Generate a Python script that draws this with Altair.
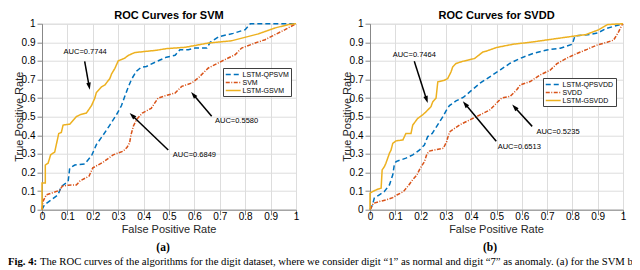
import math
import altair as alt
import pandas as pd

TICKS = [0, 0.1, 0.2, 0.3, 0.4, 0.5, 0.6, 0.7, 0.8, 0.9, 1]

NAMES_A = ["LSTM-QPSVM", "SVM", "LSTM-GSVM"]
NAMES_B = ["LSTM-QPSVDD", "SVDD", "LSTM-GSVDD"]
COLORS = ["#0072BD", "#D95319", "#EDB120"]
DASHES = [[5, 3], [4, 1.5, 1, 1.5], [1, 0]]
X_TITLE = "False Positive Rate"
Y_TITLE = "True Positive Rate"

# ---- panel (a) ----
A_QP_X = [0, 0.01, 0.037, 0.063, 0.076, 0.103, 0.109, 0.129, 0.168, 0.195, 0.214, 0.24, 0.267, 0.293, 0.313, 0.326, 0.34, 0.352, 0.372, 0.39, 0.411, 0.45, 0.49, 0.524, 0.543, 0.576, 0.603, 0.649, 0.662, 0.695, 0.753, 0.8, 0.82, 1]
A_QP_Y = [0, 0.027, 0.054, 0.08, 0.125, 0.152, 0.223, 0.24, 0.246, 0.29, 0.35, 0.40, 0.455, 0.51, 0.56, 0.61, 0.66, 0.70, 0.745, 0.765, 0.77, 0.796, 0.82, 0.83, 0.86, 0.86, 0.869, 0.869, 0.9, 0.93, 0.948, 0.968, 1.0, 1]

A_SVM_X = [0, 0.004, 0.017, 0.05, 0.07, 0.08, 0.103, 0.135, 0.15, 0.185, 0.2, 0.24, 0.28, 0.32, 0.335, 0.345, 0.35, 0.36, 0.372, 0.395, 0.43, 0.457, 0.49, 0.524, 0.55, 0.589, 0.615, 0.655, 0.72, 0.76, 0.786, 0.839, 0.878, 0.917, 0.957, 1]
A_SVM_Y = [0, 0.045, 0.08, 0.095, 0.105, 0.127, 0.132, 0.133, 0.155, 0.18, 0.225, 0.255, 0.295, 0.315, 0.335, 0.36, 0.40, 0.45, 0.484, 0.52, 0.545, 0.60, 0.615, 0.627, 0.663, 0.681, 0.708, 0.762, 0.807, 0.833, 0.869, 0.896, 0.914, 0.941, 0.968, 1]

A_G_X = [0, 0, 0.013, 0.013, 0.024, 0.034, 0.05, 0.066, 0.076, 0.083, 0.11, 0.135, 0.149, 0.175, 0.195, 0.208, 0.214, 0.234, 0.247, 0.267, 0.274, 0.287, 0.3, 0.326, 0.34, 0.366, 0.4, 0.45, 0.49, 0.563, 0.655, 0.746, 0.8, 0.851, 0.917, 0.969, 1]
A_G_Y = [0, 0.143, 0.143, 0.24, 0.25, 0.295, 0.31, 0.41, 0.415, 0.455, 0.46, 0.5, 0.51, 0.52, 0.56, 0.6, 0.63, 0.66, 0.67, 0.705, 0.73, 0.76, 0.8, 0.815, 0.83, 0.845, 0.85, 0.857, 0.866, 0.873, 0.896, 0.908, 0.927, 0.945, 0.977, 0.995, 1]

A_AUC_TEXT = ["AUC=0.7744", "AUC=0.6849", "AUC=0.5580"]
A_AUC_X = [0.17, 0.60, 0.766]
A_AUC_Y = [0.846, 0.294, 0.478]
A_ARROW_TAIL_X = [0.168, 0.497, 0.668]
A_ARROW_TAIL_Y = [0.798, 0.321, 0.502]
A_ARROW_HEAD_X = [0.188, 0.345, 0.587]
A_ARROW_HEAD_Y = [0.645, 0.52, 0.633]

# ---- panel (b) ----
B_QP_X = [0, 0.01, 0.017, 0.037, 0.057, 0.077, 0.09, 0.096, 0.103, 0.142, 0.169, 0.195, 0.215, 0.228, 0.246, 0.274, 0.288, 0.3, 0.314, 0.34, 0.37, 0.4, 0.435, 0.475, 0.515, 0.554, 0.594, 0.646, 0.699, 0.752, 0.8, 0.81, 0.86, 0.9, 0.935, 0.975, 1]
B_QP_Y = [0, 0.027, 0.0625, 0.08, 0.098, 0.134, 0.1875, 0.241, 0.259, 0.277, 0.295, 0.32, 0.348, 0.393, 0.41, 0.47, 0.5, 0.53, 0.56, 0.585, 0.605, 0.64, 0.68, 0.716, 0.752, 0.7875, 0.814, 0.841, 0.859, 0.868, 0.89, 0.935, 0.94, 0.95, 0.975, 0.99, 1]

B_SVDD_X = [0, 0.004, 0.013, 0.04, 0.066, 0.09, 0.106, 0.132, 0.152, 0.168, 0.185, 0.198, 0.215, 0.225, 0.235, 0.25, 0.29, 0.303, 0.31, 0.317, 0.356, 0.396, 0.435, 0.475, 0.5, 0.52, 0.554, 0.58, 0.594, 0.633, 0.673, 0.712, 0.739, 0.778, 0.818, 0.858, 0.897, 0.937, 0.963, 0.983, 0.996, 1]
B_SVDD_Y = [0, 0.009, 0.034, 0.045, 0.054, 0.065, 0.079, 0.097, 0.13, 0.16, 0.186, 0.222, 0.258, 0.3, 0.315, 0.32, 0.33, 0.366, 0.40, 0.421, 0.457, 0.484, 0.51, 0.5375, 0.573, 0.6, 0.609, 0.645, 0.671, 0.689, 0.725, 0.75, 0.785, 0.815, 0.84, 0.862, 0.885, 0.9, 0.912, 0.957, 0.993, 1]

B_G_X = [0, 0, 0.011, 0.03, 0.044, 0.048, 0.057, 0.063, 0.07, 0.077, 0.083, 0.09, 0.103, 0.13, 0.142, 0.162, 0.169, 0.188, 0.208, 0.222, 0.241, 0.248, 0.261, 0.268, 0.294, 0.307, 0.32, 0.327, 0.34, 0.367, 0.386, 0.413, 0.433, 0.446, 0.459, 0.5, 0.567, 0.633, 0.726, 0.805, 0.852, 0.905, 0.938, 1]
B_G_Y = [0, 0.089, 0.098, 0.11, 0.116, 0.214, 0.232, 0.25, 0.277, 0.304, 0.32, 0.357, 0.37, 0.375, 0.41, 0.41, 0.455, 0.49, 0.51, 0.527, 0.554, 0.58, 0.6, 0.6875, 0.696, 0.705, 0.74, 0.768, 0.786, 0.798, 0.804, 0.8125, 0.834, 0.848, 0.852, 0.872, 0.89, 0.9, 0.918, 0.933, 0.941, 0.968, 0.995, 1]

B_AUC_TEXT = ["AUC=0.7464", "AUC=0.6513", "AUC=0.5235"]
B_AUC_X = [0.175, 0.59, 0.743]
B_AUC_Y = [0.83, 0.337, 0.418]
B_ARROW_TAIL_X = [0.175, 0.499, 0.641]
B_ARROW_TAIL_Y = [0.798, 0.368, 0.448]
B_ARROW_HEAD_X = [0.228, 0.367, 0.562]
B_ARROW_HEAD_Y = [0.574, 0.583, 0.565]

CAPTION_BOLD = "Fig. 4:"
CAPTION_REST = ("The ROC curves of the algorithms for the digit dataset, where we consider "
                "digit \u201c1\u201d as normal and digit \u201c7\u201d as anomaly. (a) for the SVM based")

SANS = "Liberation Sans"
SERIF = "Liberation Serif"
H = 186
ARROW_PATH = "M0,0L-0.32,1L0.32,1Z"


def label_layer(text, x, y, **kw):
    return alt.Chart(pd.DataFrame({"t": [text]})).mark_text(**kw).encode(
        x=alt.value(x), y=alt.value(y), text="t:N")


def panel(names, series, auc_text, auc_x, auc_y, tx, ty, hx, hy, W, title, sub, sub_x, leg_x, leg_y, caption=False):
    rows = []
    for name, (xs, ys) in zip(names, series):
        for i, (x, y) in enumerate(zip(xs, ys)):
            rows.append({"series": name, "x": x, "y": y, "i": i})
    df = pd.DataFrame(rows)

    sx = alt.Scale(domain=[0, 1], nice=False, zero=False)
    sy = alt.Scale(domain=[0, 1], nice=False, zero=False)
    ax_x = alt.Axis(values=TICKS, format="~g", title=None, grid=True,
                    labelPadding=-3, labelFlush=False)
    ax_y = alt.Axis(values=TICKS, format="~g", title=None, grid=True,
                    labelPadding=2, labelFlush=False)
    X = alt.X("x:Q", scale=sx, axis=ax_x)
    Y = alt.Y("y:Q", scale=sy, axis=ax_y)

    legend = alt.Legend(title=None, orient="none", legendX=leg_x, legendY=leg_y,
                        fillColor="white", strokeColor="#404040", padding=2, rowPadding=0,
                        symbolType="M-1,0H3", symbolSize=56.25, symbolStrokeWidth=1.5,
                        labelFontSize=7, labelOffset=8.5, labelFont=SANS,
                        labelColor="black", labelLimit=0)

    lines = alt.Chart(df).mark_line(strokeWidth=1.5).encode(
        x=X, y=Y,
        color=alt.Color("series:N", scale=alt.Scale(domain=names, range=COLORS), legend=legend),
        strokeDash=alt.StrokeDash("series:N", scale=alt.Scale(domain=names, range=DASHES), legend=legend),
        order="i:Q",
    )

    arows = []
    for a, b, c, d in zip(tx, ty, hx, hy):
        dxp = (c - a) * W
        dyp = -(d - b) * H
        L = math.hypot(dxp, dyp)
        ang = math.degrees(math.atan2(dxp, -dyp)) % 360
        ex = c - (dxp / L * 5) / W
        ey = d + (dyp / L * 5) / H
        arows.append({"x": a, "y": b, "x2": ex, "y2": ey, "hx": c, "hy": d, "ang": ang})
    adf = pd.DataFrame(arows)
    shafts = alt.Chart(adf).mark_rule(color="black", strokeWidth=1.5).encode(
        x=X, y=Y, x2="x2:Q", y2="y2:Q")
    heads = alt.Chart(adf).mark_point(shape=ARROW_PATH, filled=True, size=200, color="black",
                                      opacity=1, strokeWidth=0).encode(
        x=alt.X("hx:Q", scale=sx, axis=ax_x), y=alt.Y("hy:Q", scale=sy, axis=ax_y),
        angle=alt.Angle("ang:Q", scale=None))

    tdf = pd.DataFrame({"x": auc_x, "y": auc_y, "t": auc_text})
    texts = alt.Chart(tdf).mark_text(font=SANS, fontSize=7.5, color="black", align="center",
                                     baseline="middle").encode(x=X, y=Y, text="t:N")

    xt = label_layer(X_TITLE, W / 2, H + 20.5, font=SANS, fontSize=11, color="#262626",
                     align="center", baseline="middle")
    yt = label_layer(Y_TITLE, -22, H / 2, font=SANS, fontSize=11, color="#262626",
                     align="center", baseline="middle", angle=270)
    subl = label_layer(sub, sub_x, 224, font=SERIF, fontSize=11.5, fontWeight="bold",
                       color="black", align="center", baseline="middle")

    layers = [lines, shafts, heads, texts, xt, yt, subl]
    if caption:
        layers.append(label_layer(CAPTION_BOLD, -34, 240.8, font=SERIF, fontSize=10.7,
                                  fontWeight="bold", color="black", align="left",
                                  baseline="alphabetic"))
        layers.append(label_layer(CAPTION_REST, -2, 240.8, font=SERIF, fontSize=10.7,
                                  color="black", align="left", baseline="alphabetic"))

    return alt.layer(*layers).properties(
        width=W, height=H,
        title=alt.TitleParams(title, fontSize=11, font=SANS, fontWeight="bold", color="black",
                              offset=-2, anchor="middle", frame="group"),
    )


pa = panel(NAMES_A, [(A_QP_X, A_QP_Y), (A_SVM_X, A_SVM_Y), (A_G_X, A_G_Y)],
           A_AUC_TEXT, A_AUC_X, A_AUC_Y, A_ARROW_TAIL_X, A_ARROW_TAIL_Y,
           A_ARROW_HEAD_X, A_ARROW_HEAD_Y, 254, "ROC Curves for SVM", "(a)", 121, 181, 44.3,
           caption=True)
pb = panel(NAMES_B, [(B_QP_X, B_QP_Y), (B_SVDD_X, B_SVDD_Y), (B_G_X, B_G_Y)],
           B_AUC_TEXT, B_AUC_X, B_AUC_Y, B_ARROW_TAIL_X, B_ARROW_TAIL_Y,
           B_ARROW_HEAD_X, B_ARROW_HEAD_Y, 253, "ROC Curves for SVDD", "(b)", 120, 173, 54.3)

chart = alt.hconcat(pa, pb, spacing=74, bounds="flush").resolve_scale(
    color="independent", strokeDash="independent"
).properties(
    autosize=alt.AutoSizeParams(type="none"),
    padding={"left": 34, "top": 15.7, "right": 590, "bottom": 238.3},
).configure_view(
    stroke="#262626", strokeWidth=0.8
).configure_axis(
    labelFont=SANS, labelFontSize=7, labelColor="#262626",
    gridColor="#e3e3e3", gridWidth=0.8, domain=False, ticks=False, tickSize=0,
).configure(background="white")

chart.save("out.html", embed_options={"renderer": "svg", "actions": False})
